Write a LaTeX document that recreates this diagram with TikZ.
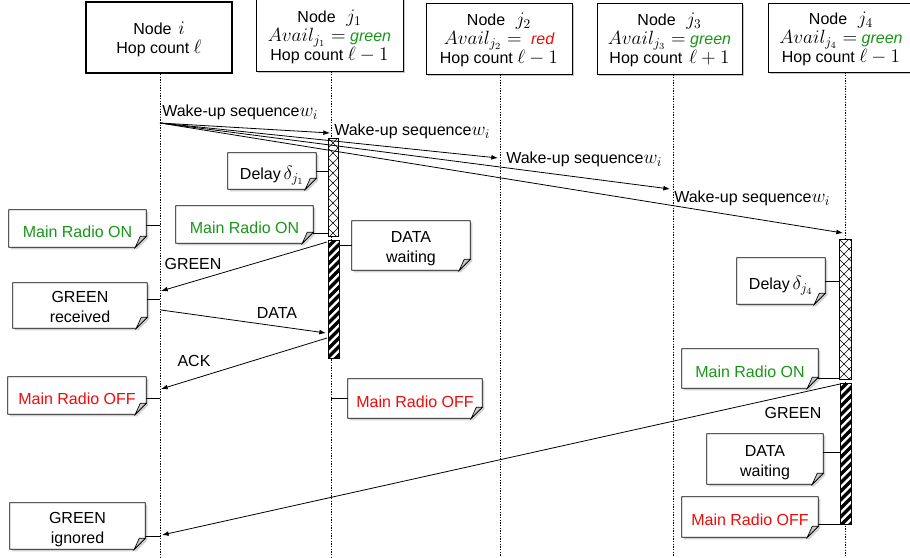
\documentclass[tikz,border=0pt]{standalone}
\usepackage[no-math]{fontspec}
\setmainfont{Liberation Sans}
\usetikzlibrary{calc,arrows.meta}
\pgfdeclarelayer{background}
\pgfsetlayers{background,main}
\definecolor{okgreen}{RGB}{25,150,25}
\definecolor{okred}{RGB}{240,10,10}
\newcommand\mm[1]{{\fontsize{14}{16}\selectfont$#1$}}
\newcommand\dogear[1]{%
  \begin{pgfonlayer}{background}
    \fill[black!18] ([shift={(2,2)}]#1.north west) -- ([shift={(2,2)}]#1.north east)
      -- ([shift={(2,-9)}]#1.south east) -- ([shift={(-9,2)}]#1.south east)
      -- ([shift={(2,2)}]#1.south west) -- cycle;
    \draw[fill=white, line width=0.6pt] (#1.north west) -- (#1.north east)
      -- ([shift={(0,-11)}]#1.south east) -- ([shift={(-11,0)}]#1.south east)
      -- (#1.south west) -- cycle;
  \end{pgfonlayer}
  \draw[fill=black!22, line width=0.5pt] ([shift={(-11,0)}]#1.south east)
    .. controls ([shift={(-8,-6)}]#1.south east) .. ([shift={(-6,-11)}]#1.south east)
    -- ([shift={(0,-11)}]#1.south east) -- cycle;
}
\newcommand\hshadow[1]{%
  \begin{pgfonlayer}{background}
    \fill[black!22] ([shift={(2,2)}]#1.north west) rectangle ([shift={(2,2)}]#1.south east);
  \end{pgfonlayer}
}
\begin{document}
\begin{tikzpicture}[x=0.75pt, y=-0.75pt,
  font=\fontsize{12}{15}\selectfont,
  rect/.style args={#1/#2/#3/#4}{minimum width={(#3-#1)*0.75pt},
    minimum height={(#4-#2)*0.75pt}, at={({(#1+#3)/2},{(#2+#4)/2})}},
  hdr/.style={draw, line width=0.6pt, fill=white, inner sep=0pt, align=center,
    font=\fontsize{12}{14.3}\selectfont, text height=37.2pt, text depth=0pt},
  notebox/.style={inner sep=0pt, align=center, text height=13pt, text depth=0pt},
  twoline/.style={text height=25.8pt, text depth=0pt},
  msg/.style={line width=0.6pt, -{Latex[length=5pt,width=3.6pt]}},
  lifeline/.style={line width=0.5pt, dash pattern=on 1pt off 1pt},
  link/.style={line width=0.6pt},
  lbl/.style={inner sep=0pt},
  xbar/.style={draw, line width=0.6pt, fill=white, inner sep=0pt,
    path picture={
      \foreach \k in {-3,...,17}{
        \draw[line width=0.4pt] ([shift={(-10,\k*10)}]path picture bounding box.north west) -- ++(40,-40);
        \draw[line width=0.4pt] ([shift={(-10,\k*10)}]path picture bounding box.north west) -- ++(40,40);
      }}},
  sbar/.style={draw, line width=0.6pt, fill=white, inner sep=0pt,
    path picture={
      \foreach \k in {0,...,22}{
        \draw[line width=2.5pt] ([shift={(-10,\k*8.5)}]path picture bounding box.north west) -- ++(40,-40);
      }}}
]
\useasboundingbox (0,0) rectangle (910,557);

% header boxes
\node[hdr, line width=1.5pt, text height=23.7pt, rect=86/2/232/73] (hi)
  {Node\hspace{5pt}\mm{i}\\Hop count \mm{\ell}};
\node[hdr, text height=40.2pt, rect=256/-3/403/71] (hj1)
  {Node\hspace{8pt}\mm{j_1}\\\mm{Avail_{j_1} =} {\itshape\color{okgreen}green}\\Hop count \mm{\ell-1}};
\node[hdr, rect=426/3/572/74] (hj2)
  {Node\hspace{8pt}\mm{j_2}\\\mm{Avail_{j_2} =}\hspace{7pt}{\itshape\color{okred}red}\\Hop count \mm{\ell-1}};
\node[hdr, rect=597/3/742/74] (hj3)
  {Node\hspace{8pt}\mm{j_3}\\\mm{Avail_{j_3} =} {\itshape\color{okgreen}green}\\Hop count\hspace{5pt}\mm{\ell+1}};
\node[hdr, rect=768/3/914/72] (hj4)
  {Node\hspace{8pt}\mm{j_4}\\\mm{Avail_{j_4} =} {\itshape\color{okgreen}green}\\Hop count \mm{\ell-1}};
\hshadow{hj1}\hshadow{hj2}\hshadow{hj3}\hshadow{hj4}

% lifelines
\coordinate (bot) at (0,557);
\coordinate (xi) at (160,0);
\coordinate (xj1) at (331,0);
\coordinate (xj2) at (500,0);
\coordinate (xj3) at (673,0);
\coordinate (xj4) at (845,0);
\draw[lifeline] (hi.south -| xi) -- (xi |- bot);
\draw[lifeline] (hj1.south -| xj1) -- (xj1 |- bot);
\draw[lifeline] (hj2.south -| xj2) -- (xj2 |- bot);
\draw[lifeline] (hj3.south -| xj3) -- (xj3 |- bot);
\draw[lifeline] (hj4.south -| xj4) -- (xj4 |- bot);

% activation bars
\node[xbar, rect=328/138/338/236] (cj1) {};
\node[sbar, rect=328/240/339/358] (sj1) {};
\node[xbar, rect=839/239/851/379] (cj4) {};
\node[sbar, rect=840/383/851/524] (sj4) {};

% wake-up messages
\coordinate (w0) at (160,123);
\coordinate (w1) at (330,133);
\coordinate (w2) at (498,158);
\coordinate (w3) at (670,189);
\coordinate (w4) at (843,233);
\draw[msg] (w0) -- (w1);
\draw[msg] (w0) -- (w2);
\draw[msg] (w0) -- (w3);
\draw[msg] (w0) -- (w4);
\node[lbl, anchor=west] (lw1) at (162,112) {Wake-up sequence\mm{w_i}};
\node[lbl, anchor=west] (lw2) at (334,131) {Wake-up sequence\mm{w_i}};
\node[lbl, anchor=west] (lw3) at (506,159) {Wake-up sequence\mm{w_i}};
\node[lbl, anchor=west] (lw4) at (674,198) {Wake-up sequence\mm{w_i}};

% exchange with j1
\coordinate (g1s) at (327,242);
\coordinate (g1e) at (161,291);
\coordinate (ds) at (161,310);
\coordinate (de) at (326,333);
\coordinate (as) at (327,338);
\coordinate (ae) at (161,389);
\draw[msg] (g1s) -- (g1e);
\draw[msg] (ds) -- (de);
\draw[msg] (as) -- (ae);
\node[lbl] (lg1) at (193,264) {GREEN};
\node[lbl] (ld) at (277,313) {DATA};
\node[lbl] (la) at (194,361) {ACK};

% exchange with j4
\coordinate (g2s) at (840,384);
\coordinate (g2e) at (162,535);
\draw[msg] (g2s) -- (g2e);
\node[lbl] (lg2) at (793,413) {GREEN};

% notes
\node[notebox, rect=228/153/316/189] (dj1) {Delay\,\mm{\delta_{j_1}}};
\dogear{dj1}
\draw[link] (dj1.east) -- (dj1.east -| cj1.west);

\node[notebox, text=okgreen, rect=176/206/313/243] (mronj1) {Main Radio ON};
\dogear{mronj1}
\draw[link] ($(mronj1.east)+(0,8.5)$) coordinate (t1) -- (t1 -| cj1.west);

\node[notebox, text=okgreen, rect=9/210/146/247] (mroni) {Main Radio ON};
\dogear{mroni}
\draw[link] ($(mroni.east)+(0,-3.5)$) coordinate (t2) -- (t2 -| xi);

\node[notebox, twoline, rect=352/221/470/270] (dwj1) {DATA\\waiting};
\dogear{dwj1}
\draw[link] (dwj1.west) -- (dwj1.west -| sj1.east);

\node[notebox, twoline, rect=13/283/147/328] (grec) {GREEN\\received};
\dogear{grec}
\draw[link] ($(grec.east)+(0,-6.5)$) coordinate (t3) -- (t3 -| xi);

\node[notebox, text=okred, rect=8/377/146/414] (mroffi) {Main Radio OFF};
\dogear{mroffi}
\draw[link] ($(mroffi.east)+(0,2.5)$) coordinate (t4) -- (t4 -| xi);

\node[notebox, text=okred, rect=348/379/482/418] (mroffj1) {Main Radio OFF};
\dogear{mroffj1}
\draw[link] (mroffj1.west) -- (mroffj1.west -| xj1);

\node[notebox, rect=737/258/825/304] (dj4) {Delay\,\mm{\delta_{j_4}}};
\dogear{dj4}
\draw[link] (dj4.east) -- (dj4.east -| cj4.west);

\node[notebox, text=okgreen, rect=682/349/818/388] (mronj4) {Main Radio ON};
\dogear{mronj4}
\draw[link] ($(mronj4.east)+(0,9.5)$) coordinate (t5) -- (t5 -| cj4.west);

\node[notebox, twoline, rect=707/434/823/484] (dwj4) {DATA\\waiting};
\dogear{dwj4}
\draw[link] ($(dwj4.east)+(0,-7)$) coordinate (t6) -- (t6 -| sj4.west);

\node[notebox, text=okred, rect=682/497/818/537] (mroffj4) {Main Radio OFF};
\dogear{mroffj4}
\draw[link] ($(mroffj4.east)+(0,7)$) coordinate (t7) -- (t7 -| sj4.west);

\node[notebox, twoline, rect=10/503/145/549] (gign) {GREEN\\ignored};
\dogear{gign}
\draw[link] ($(gign.east)+(0,10)$) coordinate (t8) -- (t8 -| xi);
\end{tikzpicture}
\end{document}
